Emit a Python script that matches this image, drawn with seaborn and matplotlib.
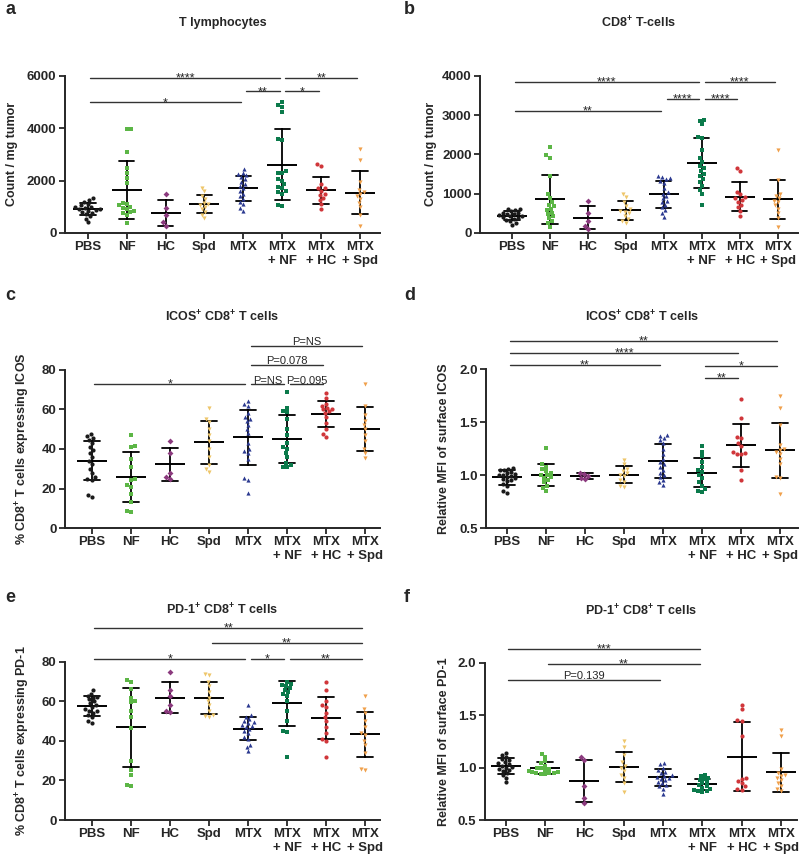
import numpy as np
import pandas as pd
import matplotlib
matplotlib.use('Agg')
import matplotlib.pyplot as plt
from matplotlib.ticker import FormatStrFormatter
import seaborn as sns

# Groups, labels and styles
GROUPS = ['PBS', 'NF', 'HC', 'Spd', 'MTX', 'MTX + NF', 'MTX + HC', 'MTX + Spd']
TICK_LABELS = ['PBS', 'NF', 'HC', 'Spd', 'MTX', 'MTX\n+ NF', 'MTX\n+ HC', 'MTX\n+ Spd']
COLORS = ['#1a1a1a', '#5cb646', '#8b3a7e', '#eec66a', '#2b3990', '#0b7a4b', '#d0363a', '#f0a04b']
MARKERS = ['o', 's', 'D', 'v', '^', 's', 'o', 'v']

# a: T lymphocytes, count / mg tumor
T_LYMPH = [
    [1320, 1250, 1180, 1100, 1050, 1000, 980, 950, 920, 900, 870, 850, 800, 780, 720, 650, 550, 400],
    [3975, 3950, 3095, 2480, 2290, 2100, 1910, 1150, 1100, 1050, 1000, 950, 900, 850, 800, 760, 700, 380],
    [1500, 950, 700, 400, 280],
    [1720, 1600, 1400, 1300, 1150, 1100, 1050, 1000, 900, 800, 700, 580],
    [2450, 2300, 2250, 2200, 2150, 2050, 1950, 1850, 1800, 1700, 1600, 1500, 1400, 1300, 1200, 1100, 950, 850],
    [5000, 4870, 4800, 4600, 3600, 3550, 2350, 2300, 2280, 2050, 2000, 1850, 1750, 1700, 1600, 1550, 1500, 1080, 1020],
    [2620, 2550, 1850, 1700, 1700, 1600, 1500, 1450, 1350, 1250, 1100, 900],
    [3200, 2800, 1950, 1650, 1550, 1500, 1400, 1300, 1150, 1000, 700, 250],
]

# b: CD8+ T-cells, count / mg tumor
CD8_COUNT = [
    [620, 600, 580, 550, 520, 500, 480, 470, 450, 440, 420, 400, 380, 360, 340, 300, 260, 200],
    [2200, 1980, 1920, 1450, 1000, 900, 800, 720, 680, 620, 580, 520, 480, 420, 380, 300, 250, 150],
    [820, 520, 300, 180, 100],
    [1000, 920, 780, 680, 600, 560, 540, 500, 430, 350, 300, 260],
    [1450, 1420, 1400, 1370, 1330, 1280, 1150, 1050, 1000, 950, 880, 820, 780, 720, 650, 580, 500, 400],
    [2880, 2850, 2760, 2450, 2420, 2100, 1900, 1800, 1700, 1650, 1580, 1500, 1450, 1380, 1300, 1200, 1100, 1000, 720],
    [1660, 1580, 1050, 980, 920, 880, 850, 800, 720, 650, 560, 430],
    [2100, 1350, 1000, 950, 880, 820, 780, 700, 620, 500, 380, 150],
]

# c: % CD8+ T cells expressing ICOS
ICOS_PCT = [
    [47.5, 46.5, 45.5, 44.5, 43, 41, 39.5, 38, 36, 34, 32.5, 30, 28, 26, 25, 24.5, 16.5, 15.8],
    [47, 41.5, 40.8, 35, 31, 25, 22, 24.5, 21, 17, 13, 8.8, 8],
    [44, 38, 28, 26, 25],
    [60.5, 55, 53.5, 50, 47, 44, 40, 36, 32, 30, 28.5],
    [64.5, 63, 62, 58, 56, 55, 54, 52, 50, 48, 43, 39, 38, 40, 35, 25.5, 24.5, 17.5],
    [69, 61, 59, 58.5, 55, 50, 47, 43, 41, 40, 38, 36, 33, 32, 31, 31],
    [68.5, 66, 63, 62, 61, 60, 60, 59, 58, 56, 53, 50, 47.5, 46],
    [73, 62, 57, 54, 52, 50, 47, 44, 40, 38, 35.5],
]

# d: relative MFI of surface ICOS
ICOS_MFI = [
    [1.07, 1.06, 1.05, 1.05, 1.03, 1.02, 1.01, 1.0, 1.0, 0.99, 0.98, 0.97, 0.96, 0.95, 0.94, 0.92, 0.90, 0.85, 0.83],
    [1.26, 1.1, 1.08, 1.06, 1.04, 1.02, 1.0, 1.0, 0.98, 0.97, 0.95, 0.93, 0.9, 0.88, 0.85],
    [1.02, 1.01, 0.99, 0.97, 0.96],
    [1.14, 1.1, 1.06, 1.04, 1.02, 1.0, 0.99, 0.95, 0.93, 0.9, 0.89],
    [1.38, 1.37, 1.35, 1.33, 1.3, 1.25, 1.2, 1.15, 1.12, 1.1, 1.08, 1.05, 1.02, 1.0, 0.98, 0.95, 0.93, 0.91],
    [1.27, 1.22, 1.18, 1.12, 1.08, 1.05, 1.03, 1.0, 0.97, 0.93, 0.9, 0.87, 0.85, 0.84],
    [1.72, 1.54, 1.36, 1.35, 1.3, 1.27, 1.22, 1.21, 1.2, 1.2, 1.05, 0.95],
    [1.75, 1.63, 1.47, 1.28, 1.25, 1.24, 1.22, 1.2, 1.15, 1.1, 0.98, 0.97, 0.82],
]

# e: % CD8+ T cells expressing PD-1
PD1_PCT = [
    [66, 64, 63, 62.5, 62, 61, 60, 59, 58, 57, 56, 55, 55, 54, 53, 52, 50, 49],
    [71, 70, 66.5, 62, 60, 59.5, 55, 52, 46.5, 30, 25.5, 23, 17.5, 17],
    [75, 66, 63, 58, 55, 54.5],
    [74, 73.5, 70, 68, 65, 62, 60, 58, 55, 53, 52.5, 52],
    [58, 53, 52, 51, 50, 49.5, 49, 48, 47.5, 47, 46, 45, 44, 42, 41, 38, 37, 35],
    [70, 69, 68.5, 68, 67, 66, 65, 64, 63, 60, 55, 50, 45, 44.5, 32],
    [70, 66, 60, 58, 57, 54, 52, 50, 47, 44, 41, 40, 32],
    [63, 56, 54, 50, 47, 44, 43, 40, 38, 34, 26, 25.5],
]

# f: relative MFI of surface PD-1
PD1_MFI = [
    [1.14, 1.12, 1.1, 1.08, 1.07, 1.05, 1.04, 1.03, 1.02, 1.01, 1.0, 0.99, 0.98, 0.97, 0.95, 0.93, 0.9, 0.86],
    [1.13, 1.1, 1.06, 1.04, 1.02, 1.0, 1.0, 0.99, 0.98, 0.97, 0.96, 0.96, 0.95, 0.95, 0.95, 0.94, 0.94],
    [1.1, 1.07, 0.82, 0.71, 0.66],
    [1.25, 1.2, 1.12, 1.05, 1.02, 1.0, 0.97, 0.93, 0.9, 0.85, 0.77],
    [1.04, 1.03, 1.0, 0.98, 0.96, 0.95, 0.93, 0.92, 0.91, 0.9, 0.89, 0.88, 0.86, 0.85, 0.83, 0.82, 0.8, 0.75],
    [0.93, 0.92, 0.9, 0.89, 0.88, 0.86, 0.85, 0.83, 0.82, 0.81, 0.8, 0.79, 0.78, 0.78, 0.77],
    [1.6, 1.56, 1.45, 1.44, 1.3, 0.9, 0.89, 0.87, 0.85, 0.82, 0.8, 0.79],
    [1.36, 1.3, 0.99, 0.95, 0.93, 0.92, 0.9, 0.88, 0.85, 0.82, 0.8, 0.78],
]

# significance bars: (group i, group j, height, label)
SIG_A = [(0, 5, 5900, '****'), (0, 4, 4980, '*'), (4, 5, 5400, '**'), (5, 6, 5400, '*'), (5, 7, 5900, '**')]
SIG_B = [(0, 5, 3830, '****'), (0, 4, 3110, '**'), (4, 5, 3420, '****'), (5, 6, 3420, '****'), (5, 7, 3830, '****')]
SIG_C = [(0, 4, 72.7, '*'), (4, 5, 72.7, 'P=NS'), (5, 6, 72.7, 'P=0.095'), (4, 6, 82.5, 'P=0.078'), (4, 7, 92.3, 'P=NS')]
SIG_D = [(0, 7, 2.27, '**'), (0, 6, 2.15, '****'), (0, 4, 2.035, '**'), (5, 7, 2.03, '*'), (5, 6, 1.915, '**')]
SIG_E = [(0, 7, 97.3, '**'), (3, 7, 89.6, '**'), (0, 4, 81.7, '*'), (4, 5, 81.7, '*'), (5, 7, 81.7, '**')]
SIG_F = [(0, 5, 2.13, '***'), (1, 5, 1.987, '**'), (0, 4, 1.84, 'P=0.139')]

PLUS = r'$^{\mathbf{+}}$'

sns.set_style('ticks')
plt.rcParams['font.family'] = ['Liberation Sans', 'DejaVu Sans']
plt.rcParams['mathtext.fontset'] = 'custom'
plt.rcParams['mathtext.rm'] = 'Liberation Sans'
plt.rcParams['mathtext.bf'] = 'Liberation Sans:bold'

# letter, title, ylabel, data, sig, ylim, yticks, fmt, rect, xlim, ylabel x, letter pos, title y
panels = [
    ('a', 'T lymphocytes', 'Count / mg tumor', T_LYMPH, SIG_A, (0, 6000), [0, 2000, 4000, 6000], '%d',
     [0.081, 0.7288, 0.394, 0.183], (-0.59, 7.51), -0.149, (5, 10), 23),
    ('b', 'CD8' + PLUS + ' T-cells', 'Count / mg tumor', CD8_COUNT, SIG_B, (0, 4000), [0, 1000, 2000, 3000, 4000], '%d',
     [0.600, 0.7288, 0.3975, 0.183], (-0.84, 7.53), -0.135, (404, 10), 23),
    ('c', 'ICOS' + PLUS + ' CD8' + PLUS + ' T cells', '% CD8' + PLUS + ' T cells expressing ICOS', ICOS_PCT, SIG_C,
     (0, 80), [0, 20, 40, 60, 80], '%d',
     [0.081, 0.3853, 0.394, 0.184], (-0.69, 7.38), -0.105, (5, 295), 317),
    ('d', 'ICOS' + PLUS + ' CD8' + PLUS + ' T cells', 'Relative MFI of surface ICOS', ICOS_MFI, SIG_D,
     (0.5, 2.0), [0.5, 1.0, 1.5, 2.0], '%.1f',
     [0.6075, 0.3853, 0.39, 0.185], (-0.54, 7.46), -0.115, (404, 295), 317),
    ('e', 'PD-1' + PLUS + ' CD8' + PLUS + ' T cells', '% CD8' + PLUS + ' T cells expressing PD-1', PD1_PCT, SIG_E,
     (0, 80), [0, 20, 40, 60, 80], '%d',
     [0.081, 0.0454, 0.394, 0.184], (-0.69, 7.38), -0.105, (5, 597), 610),
    ('f', 'PD-1' + PLUS + ' CD8' + PLUS + ' T cells', 'Relative MFI of surface PD-1', PD1_MFI, SIG_F,
     (0.5, 2.0), [0.5, 1.0, 1.5, 2.0], '%.1f',
     [0.606, 0.0454, 0.39, 0.183], (-0.53, 7.40), -0.112, (404, 597), 611),
]

W, H = 800, 859
fig = plt.figure(figsize=(W / 100, H / 100), dpi=100)

for (letter, title, ylabel, data, sig, ylim, yticks, fmt,
     rect, xlim, ylab_x, letter_pos, title_y) in panels:
    ax = fig.add_axes(rect)
    df = pd.DataFrame({
        'group': [g for g, vals in zip(GROUPS, data) for _ in vals],
        'value': [v for vals in data for v in vals],
    })

    # individual animals
    for g, c, m in zip(GROUPS, COLORS, MARKERS):
        sns.swarmplot(data=df[df['group'] == g], x='group', y='value', order=GROUPS,
                      color=c, marker=m, size=3.0, ax=ax, warn_thresh=1)

    # mean +/- SD
    sns.pointplot(data=df, x='group', y='value', order=GROUPS, errorbar='sd', capsize=0.4,
                  color='black', marker='_', markersize=21, markeredgewidth=1.4,
                  linestyle='none', err_kws={'linewidth': 1.3}, ax=ax)

    ax.set_xlim(xlim)
    ax.set_ylim(ylim)
    ax.set_yticks(yticks)
    ax.yaxis.set_major_formatter(FormatStrFormatter(fmt))
    ax.set_xticks(range(len(GROUPS)))
    ax.set_xticklabels(TICK_LABELS)
    ax.set_xlabel('')
    ax.set_ylabel(ylabel, fontsize=9, fontweight='bold')
    ax.yaxis.set_label_coords(ylab_x, 0.5)
    sns.despine(ax=ax)
    for side in ['left', 'bottom']:
        ax.spines[side].set_linewidth(1.4)
    ax.tick_params(length=4, width=1.3, labelsize=9.5, pad=2)
    for lbl in ax.get_xticklabels() + ax.get_yticklabels():
        lbl.set_fontweight('bold')

    # significance bars
    for i, j, y, lab in sig:
        ax.plot([i + 0.07, j - 0.07], [y, y], color='#333333', lw=1.0, clip_on=False)
        star = lab.startswith('*')
        ax.annotate(lab, xy=((i + j) / 2, y), xytext=(0, -2.5 if star else 0.5),
                    textcoords='offset points', ha='center', va='baseline',
                    fontsize=9 if star else 8, annotation_clip=False)

    cx = rect[0] + rect[2] / 2
    fig.text(cx, 1 - title_y / H, title, ha='center', va='center', fontsize=9, fontweight='bold')
    fig.text(letter_pos[0] / W, 1 - letter_pos[1] / H, letter, ha='left', va='center',
             fontsize=13, fontweight='bold')

fig.savefig('out.png', dpi=100)
